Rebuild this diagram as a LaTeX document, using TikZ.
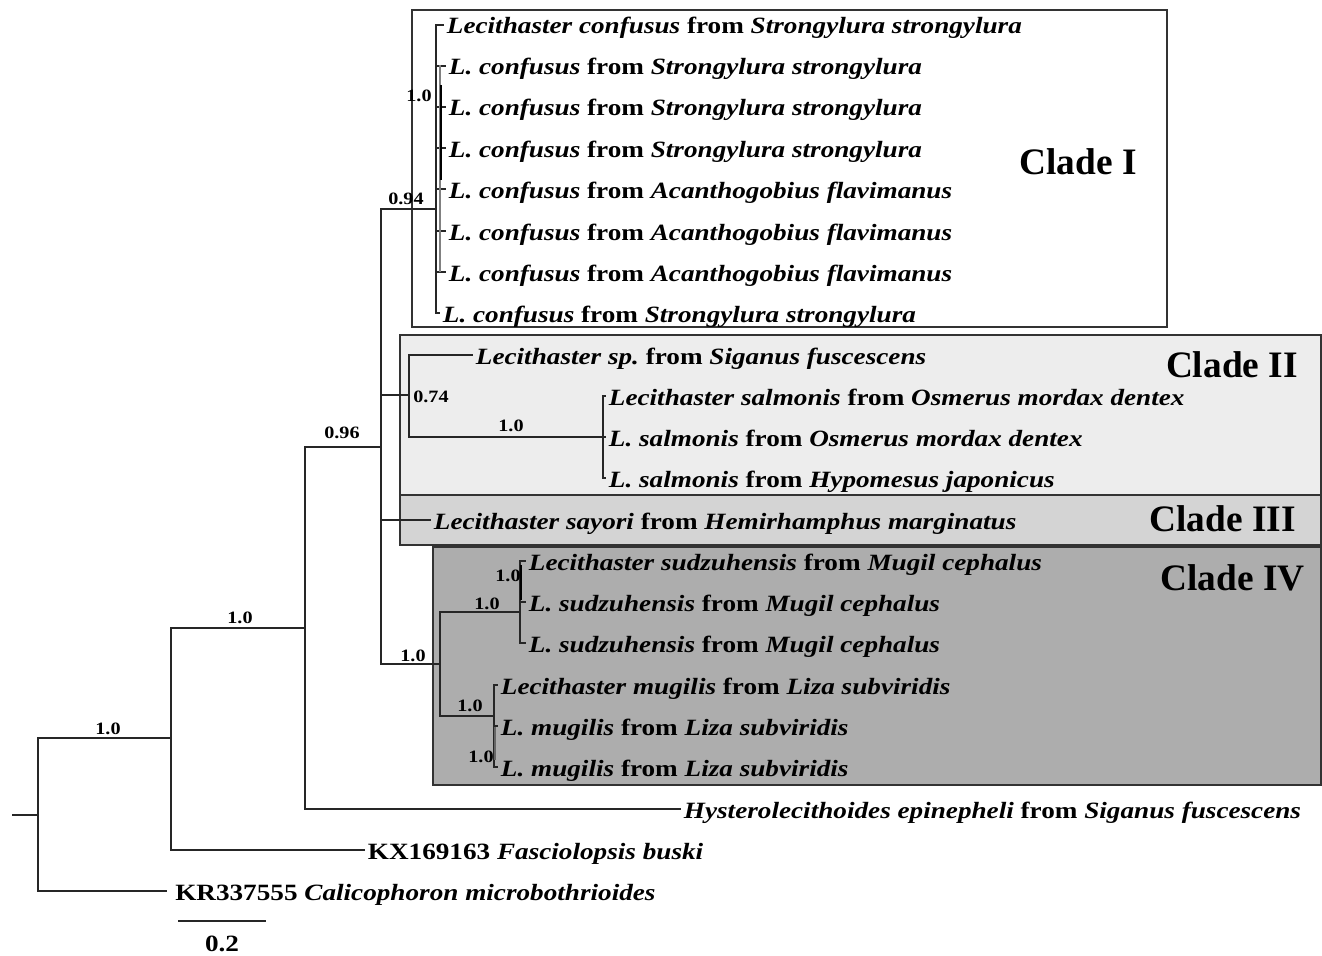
\documentclass[tikz,border=0pt]{standalone}
\usepackage{fontspec}
\setmainfont{Liberation Serif}
\newfontfamily\tipfont{Liberation Serif}[FakeStretch=1.165]
\newcommand{\spname}[1]{\textit{#1}}
\definecolor{cladetwo}{gray}{0.93}
\definecolor{cladethree}{gray}{0.83}
\definecolor{cladefour}{gray}{0.68}
\begin{document}
\begin{tikzpicture}[x=0.75pt,y=-0.75pt]
	\tikzstyle{branch} = [draw=black!85, line width=1.1pt];
	\tikzstyle{tip} = [anchor=west, inner xsep=2pt, inner ysep=0pt, text height=13.5pt, text depth=0pt, font=\tipfont\fontsize{17.5}{20}\selectfont\bfseries];
	\tikzstyle{support} = [inner sep=0pt, font=\tipfont\fontsize{13}{15}\selectfont\bfseries];
	\tikzstyle{cladebox} = [draw=black!80, line width=1.5pt];
	\tikzstyle{cladename} = [anchor=base east, inner sep=0pt, font=\fontsize{28}{32}\selectfont\bfseries];
	\useasboundingbox (0,0) rectangle (1322,956);

	% clade boxes
	\draw[cladebox, fill=white] (412,10) rectangle (1167,327);
	\draw[cladebox, fill=cladetwo] (400,335) rectangle (1321,495);
	\draw[cladebox, fill=cladethree] (400,495) rectangle (1321,545);
	\draw[cladebox, fill=cladefour] (433,547) rectangle (1321,785);
	\node[cladename] (CladeI) at (1137,175) {Clade I};
	\node[cladename] (CladeII) at (1298,377) {Clade II};
	\node[cladename] (CladeIII) at (1296,531) {Clade III};
	\node[cladename] (CladeIV) at (1305,590) {Clade IV};

	% internal nodes
	\coordinate (rootstub) at (12,815);
	\coordinate (root) at (38,815);
	\coordinate (nA) at (171,738);
	\coordinate (nB) at (305,628);
	\coordinate (nC) at (381,447);
	\coordinate (confusus) at (436,209);
	\coordinate (cladeIInode) at (409,395);
	\coordinate (salmonis) at (603,437);
	\coordinate (cladeIVnode) at (440,664);
	\coordinate (sudzuhensis) at (520,612);
	\coordinate (mugilis) at (494,716);

	% tips
	\node[tip] (conf1) at (444,25) {\spname{Lecithaster confusus} from \spname{Strongylura strongylura}};
	\node[tip] (conf2) at (446,66) {\spname{L. confusus} from \spname{Strongylura strongylura}};
	\node[tip] (conf3) at (446,107) {\spname{L. confusus} from \spname{Strongylura strongylura}};
	\node[tip] (conf4) at (446,148) {\spname{L. confusus} from \spname{Strongylura strongylura}};
	\node[tip] (conf5) at (446,189) {\spname{L. confusus} from \spname{Acanthogobius flavimanus}};
	\node[tip] (conf6) at (446,231) {\spname{L. confusus} from \spname{Acanthogobius flavimanus}};
	\node[tip] (conf7) at (446,272) {\spname{L. confusus} from \spname{Acanthogobius flavimanus}};
	\node[tip] (conf8) at (440,313) {\spname{L. confusus} from \spname{Strongylura strongylura}};
	\node[tip] (lecsp) at (473,355) {\spname{Lecithaster sp.}\ from \spname{Siganus fuscescens}};
	\node[tip] (salm1) at (606,396) {\spname{Lecithaster salmonis} from \spname{Osmerus mordax dentex}};
	\node[tip] (salm2) at (606,437) {\spname{L. salmonis} from \spname{Osmerus mordax dentex}};
	\node[tip] (salm3) at (606,478) {\spname{L. salmonis} from \spname{Hypomesus japonicus}};
	\node[tip] (sayori) at (431,520) {\spname{Lecithaster sayori} from \spname{Hemirhamphus marginatus}};
	\node[tip] (sudz1) at (526,561) {\spname{Lecithaster sudzuhensis} from \spname{Mugil cephalus}};
	\node[tip] (sudz2) at (526,602) {\spname{L. sudzuhensis} from \spname{Mugil cephalus}};
	\node[tip] (sudz3) at (526,643) {\spname{L. sudzuhensis} from \spname{Mugil cephalus}};
	\node[tip] (mug1) at (498,685) {\spname{Lecithaster mugilis} from \spname{Liza subviridis}};
	\node[tip] (mug2) at (498,726) {\spname{L. mugilis} from \spname{Liza subviridis}};
	\node[tip] (mug3) at (498,767) {\spname{L. mugilis} from \spname{Liza subviridis}};
	\node[tip] (hystero) at (681,809) {\spname{Hysterolecithoides epinepheli} from \spname{Siganus fuscescens}};
	\node[tip] (KX169163) at (365,850) {KX169163 \spname{Fasciolopsis buski}};
	\node[tip, inner xsep=6pt] (KR337555) at (167,891) {KR337555 \spname{Calicophoron microbothrioides}};

	% branches
	\draw[branch] (rootstub) -- (root);
	\draw[branch] (root) |- (nA);
	\draw[branch] (root) |- (KR337555.west);
	\draw[branch] (nA) |- (nB);
	\draw[branch] (nA) |- (KX169163.west);
	\draw[branch] (nB) |- (nC);
	\draw[branch] (nB) |- (hystero.west);
	\draw[branch] (nC) |- (confusus);
	\draw[branch] (nC) |- (cladeIInode);
	\draw[branch] (nC) |- (sayori.west);
	\draw[branch] (nC) |- (cladeIVnode);
	\draw[branch] (confusus) |- (conf1.west);
	\draw[branch] (confusus) |- (conf2.west);
	\draw[branch] (confusus) |- (conf3.west);
	\draw[branch] (confusus) |- (conf4.west);
	\draw[branch] (confusus) |- (conf5.west);
	\draw[branch] (confusus) |- (conf6.west);
	\draw[branch] (confusus) |- (conf7.west);
	\draw[branch] (confusus) |- (conf8.west);
	\draw[branch] (cladeIInode) |- (lecsp.west);
	\draw[branch] (cladeIInode) |- (salmonis);
	\draw[branch] (salmonis) |- (salm1.west);
	\draw[branch] (salmonis) |- (salm2.west);
	\draw[branch] (salmonis) |- (salm3.west);
	\draw[branch] (cladeIVnode) |- (sudzuhensis);
	\draw[branch] (cladeIVnode) |- (mugilis);
	\draw[branch] (sudzuhensis) |- (sudz1.west);
	\draw[branch] (sudzuhensis) |- (sudz2.west);
	\draw[branch] (sudzuhensis) |- (sudz3.west);
	\draw[branch] (mugilis) |- (mug1.west);
	\draw[branch] (mugilis) |- (mug2.west);
	\draw[branch] (mugilis) |- (mug3.west);

	% short inner clades
	\coordinate (confInTop) at (440,65);
	\coordinate (confInBot) at (440,272);
	\coordinate (confIn2Top) at (441,85);
	\coordinate (confIn2Bot) at (441,180);
	\draw[draw=gray, line width=2pt] (confInTop) -- (confInBot);
	\draw[draw=black, line width=2.2pt] (confIn2Top) -- (confIn2Bot);
	\coordinate (sudzInTop) at (521,565);
	\coordinate (sudzInBot) at (521,600);
	\draw[draw=black, line width=2pt] (sudzInTop) -- (sudzInBot);
	\coordinate (mugInTop) at (495,727);
	\coordinate (mugInBot) at (495,760);
	\draw[draw=black!60, line width=2.2pt] (mugInTop) -- (mugInBot);

	% support values
	\node[support] (sRoot) at (108,729) {1.0};
	\node[support] (sA) at (240,618) {1.0};
	\node[support] (sB) at (342,433) {0.96};
	\node[support] (sConf) at (406,199) {0.94};
	\node[support] (sConfIn) at (419,96) {1.0};
	\node[support] (sII) at (431,397) {0.74};
	\node[support] (sSalm) at (511,426) {1.0};
	\node[support] (sIV) at (413,656) {1.0};
	\node[support] (sSudz) at (487,604) {1.0};
	\node[support] (sSudzIn) at (508,576) {1.0};
	\node[support] (sMug) at (470,706) {1.0};
	\node[support] (sMugIn) at (481,757) {1.0};

	% scale bar
	\coordinate (barL) at (178,921);
	\coordinate (barR) at (266,921);
	\draw[branch] (barL) -- (barR);
	\node[inner sep=0pt, font=\tipfont\fontsize{17.5}{20}\selectfont\bfseries] (barlabel) at (222,944) {0.2};
\end{tikzpicture}
\end{document}
